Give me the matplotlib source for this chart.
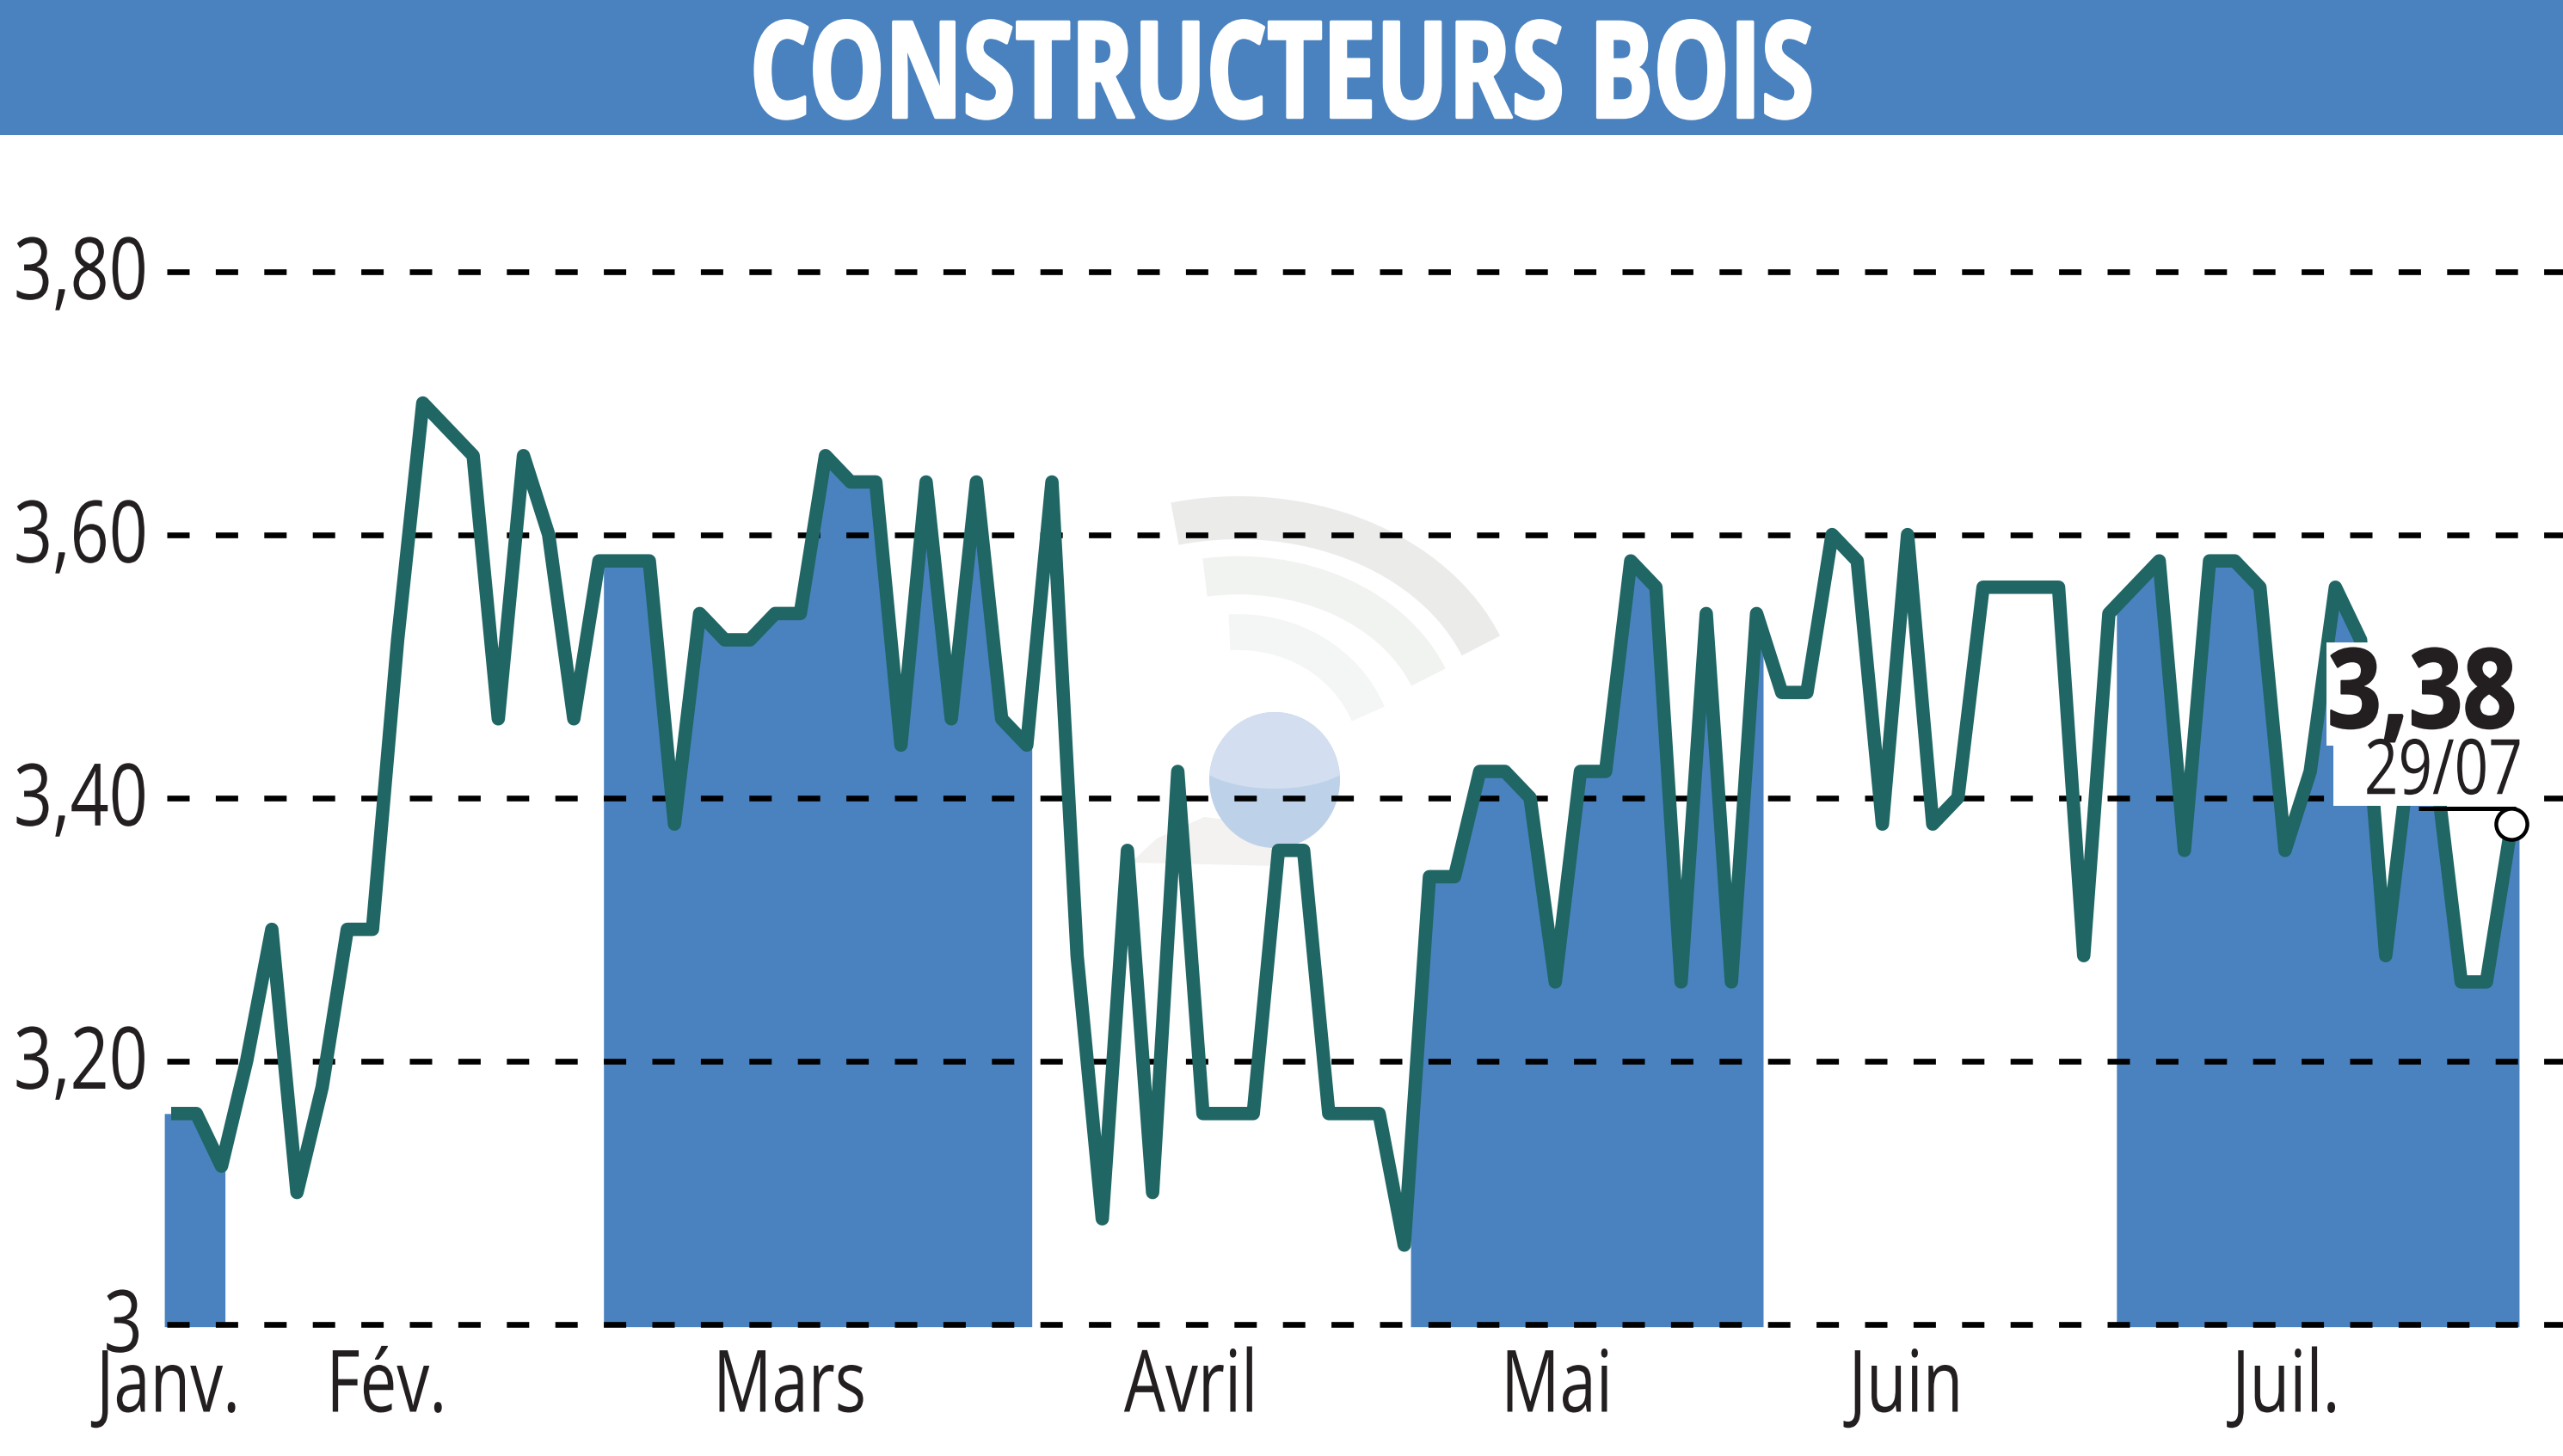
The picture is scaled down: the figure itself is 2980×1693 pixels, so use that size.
import numpy as np
import matplotlib
matplotlib.use("Agg")
import matplotlib.pyplot as plt
from matplotlib.patches import Rectangle, Ellipse, Arc, Polygon
from matplotlib.patheffects import AbstractPathEffect
from matplotlib.transforms import Affine2D

W, H = 2980, 1693

values = [3.16,3.16,3.12,3.20,3.30,3.10,3.18,3.30,3.30,3.52,
          3.70,3.68,3.66,3.46,3.66,3.60,3.46,3.58,3.58,3.58,
          3.38,3.54,3.52,3.52,3.54,3.54,3.66,3.64,3.64,3.44,
          3.64,3.46,3.64,3.46,3.44,3.64,3.28,3.08,3.36,3.10,
          3.42,3.16,3.16,3.16,3.36,3.36,3.16,3.16,3.16,3.06,
          3.34,3.34,3.42,3.42,3.40,3.26,3.42,3.42,3.58,3.56,
          3.26,3.54,3.26,3.54,3.48,3.48,3.60,3.58,3.38,3.60,
          3.38,3.40,3.56,3.56,3.56,3.56,3.28,3.54,3.56,3.58,
          3.36,3.58,3.58,3.56,3.36,3.42,3.56,3.52,3.28,3.44,
          3.42,3.26,3.26,3.38]
band_edges = [(-0.27, 2.14), (17.18, 34.2), (49.25, 63.26), (77.3, 93.3)]
month_labels = ["Janv.", "Fév.", "Mars", "Avril", "Mai", "Juin", "Juil."]
month_pos = [-0.05, 8.55, 24.55, 40.55, 55.05, 69.0, 84.1]
y_ticks = [3.0, 3.2, 3.4, 3.6, 3.8]
y_labels = ["3", "3,20", "3,40", "3,60", "3,80"]
title = "CONSTRUCTEURS BOIS"
last_value = "3,38"
last_date = "29/07"

BLUE = "#4a82bf"
LINE = "#1f6664"
INK = "#231f20"
plt.rcParams["font.family"] = ["Open Sans", "DejaVu Sans"]


class Squeeze(AbstractPathEffect):
    """Condense a text horizontally (the reference uses a condensed face)."""
    def __init__(self, sx, anchor="center", stroke=0.0, dy=0.0):
        super().__init__()
        self.sx, self.anchor, self.stroke, self.dy = sx, anchor, stroke, dy

    def draw_path(self, renderer, gc, tpath, affine, rgbFace=None):
        e = tpath.get_extents()
        c = {"left": e.x0, "center": (e.x0 + e.x1) / 2, "right": e.x1}[self.anchor]
        t = (Affine2D().translate(-c, 0).scale(self.sx, 1).translate(c, 0) + affine
             + Affine2D().translate(0, self.dy))
        g = renderer.new_gc()
        g.copy_properties(gc)
        g.set_linewidth(self.stroke)
        if self.stroke:
            g.set_foreground(rgbFace[:3])
        renderer.draw_path(g, tpath, t, rgbFace)
        g.restore()


fig = plt.figure(figsize=(W/100, H/100), dpi=100, facecolor="white")

def pixel_axes(z):
    a = fig.add_axes([0, 0, 1, 1], zorder=z)
    a.set_xlim(0, W); a.set_ylim(H, 0); a.axis("off")
    a.patch.set_alpha(0)
    return a

bg = pixel_axes(1)
fg = pixel_axes(5)

# header
bg.add_patch(Rectangle((0, 0), W, 157, fc=BLUE, ec="none"))
bg.text(1490, 96, title, color="white", fontsize=112, fontweight="bold",
        ha="center", va="center", path_effects=[Squeeze(0.715, "center", 2.5)])

# watermark (pale logo behind the chart)
bg.add_patch(Polygon([(1315, 1003), (1345, 975), (1400, 950), (1480, 960), (1490, 1007)],
                     fc="#f3f2f0", ec="none"))
ball = Ellipse((1482, 907), 152, 158, fc="#bdd2e9", ec="none")
bg.add_patch(ball)
hi = Ellipse((1482, 872), 200, 90, fc="#d3dff0", ec="none")
bg.add_patch(hi)
hi.set_clip_path(ball)
for cx, cy, a, b, t1, t2, col, lw in [
        (1440, 837, 606, 470, 252, 343, "#ebecea", 36),
        (1440, 855, 474, 372, 258, 343, "#f1f3f0", 32),
        (1440, 885, 324, 300, 266, 340, "#f4f6f5", 30)]:
    arc = Arc((cx, cy), a, b, theta1=t1, theta2=t2, color=col, lw=lw, capstyle="butt")
    bg.add_patch(arc)

# main axes: index 0 at px 199, step 29.26 ; 3.0 at px 1539.6, 1530 px per unit
x0, step = 194, 29.26
idx0 = 199
ybase, yunit = 1539.6, 1530
top, bottom = 200, 1560
ax = fig.add_axes([x0/W, 1-bottom/H, (W-x0)/W, (bottom-top)/H], zorder=3)
ax.patch.set_alpha(0)
ax.set_xlim((x0-idx0)/step, (W-idx0)/step)
ax.set_ylim(3.0-(bottom-ybase)/yunit, 3.0+(ybase-top)/yunit)
for s in ax.spines.values():
    s.set_visible(False)

xs = np.arange(len(values))
vals = np.array(values)
for a, b in band_edges:
    inner = xs[(xs > a) & (xs < b)]
    bx = np.concatenate(([a], inner, [b]))
    by = np.interp(bx, xs, vals)
    ax.fill_between(bx, 2.998, by, color=BLUE, lw=0, zorder=2, clip_on=False)

ax.set_yticks(y_ticks)
ax.set_yticklabels(y_labels)
ax.set_xticks(month_pos)
ax.set_xticklabels(month_labels)
ax.tick_params(axis="both", length=0, labelsize=72, labelcolor=INK)
ax.tick_params(axis="x", pad=3.6)
ax.tick_params(axis="y", pad=(x0-15)*0.72)
for t, lab in zip(ax.yaxis.get_major_ticks(), y_labels):
    l = t.label1
    l.set_va("center")
    if len(lab) > 1:
        l.set_ha("left")
        l.set_path_effects([Squeeze(0.79, "left", dy=-6)])
    else:
        l.set_ha("right")
        l.set_x((167-15)/(W-x0))
        l.set_path_effects([Squeeze(0.79, "right", dy=-6)])
for l in ax.get_xticklabels():
    l.set_path_effects([Squeeze(0.76, "center")])

ax.set_axisbelow(False)
LW_GRID = 4.8
ax.grid(axis="y", color="black", lw=LW_GRID, dashes=(26*0.72/LW_GRID, 30.4*0.72/LW_GRID), zorder=3)
ax.grid(axis="x", visible=False)
for g in ax.get_ygridlines():
    g.set_dash_capstyle("butt")
    g.set_clip_on(False)
    g.set_zorder(3)

ax.plot(xs, vals, color=LINE, lw=11.2, solid_joinstyle="round", solid_capstyle="butt",
        zorder=4, clip_on=False)

# last-value callout
fg.add_patch(Rectangle((2705, 747), 223, 120, fc="white", ec="none"))
fg.add_patch(Rectangle((2713, 866), 215, 71, fc="white", ec="none"))
fg.text(2816, 813, last_value, fontsize=92, fontweight="bold", color=INK,
        ha="center", va="center", path_effects=[Squeeze(0.86, "center", 1.5)])
fg.text(2841, 900, last_date, fontsize=64, color=INK, ha="center", va="center",
        path_effects=[Squeeze(0.78, "center")])
fg.plot([2812, 2925], [940, 940], color="black", lw=3.6, solid_capstyle="butt")
fg.plot([idx0 + xs[-1]*step], [ybase - (vals[-1]-3.0)*yunit], "o", ms=26, mfc="white",
        mec="black", mew=3.2, clip_on=False)
fg.set_xlim(0, W); fg.set_ylim(H, 0)

fig.savefig("out.png", dpi=100)
